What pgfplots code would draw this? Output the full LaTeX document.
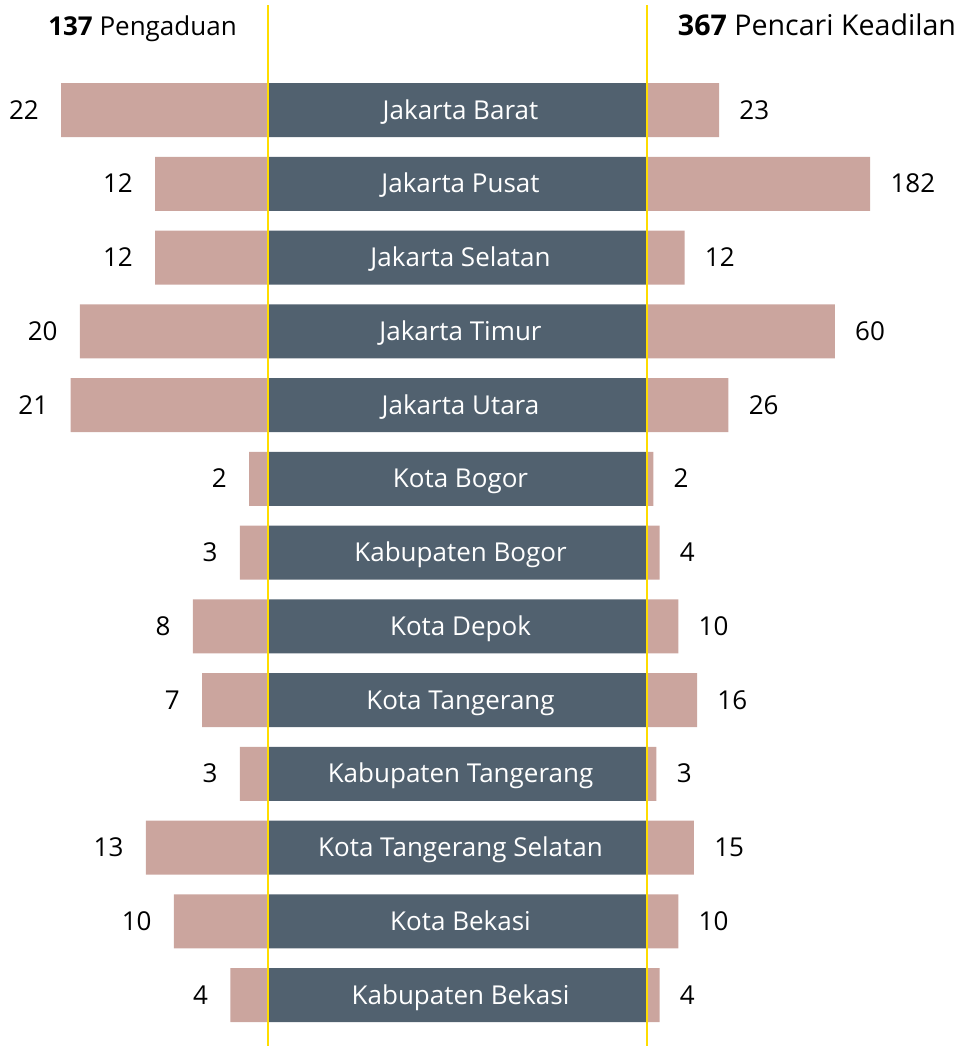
\documentclass[border=0pt]{standalone}
\usepackage{pgfplots}
\usepackage{pgfplotstable}
\usepackage{fontspec}
\setmainfont{Open Sans}
\pgfplotsset{compat=1.18}
\definecolor{pinkbar}{HTML}{CBA59E}
\definecolor{darkbar}{HTML}{51616F}
\definecolor{yel}{HTML}{FFDD00}

\pgfplotstableread[col sep=comma]{
idx,name,left,right,rightlab
0,Jakarta Barat,22,23,23
1,Jakarta Pusat,12,71.3,182
2,Jakarta Selatan,12,12,12
3,Jakarta Timur,20,60,60
4,Jakarta Utara,21,26,26
5,Kota Bogor,2,2,2
6,Kabupaten Bogor,3,4,4
7,Kota Depok,8,10,10
8,Kota Tangerang,7,16,16
9,Kabupaten Tangerang,3,3,3
10,Kota Tangerang Selatan,13,15,15
11,Kota Bekasi,10,10,10
12,Kabupaten Bekasi,4,4,4
}\data

\pgfplotsset{base/.style={scale only axis, height=523pt, ymin=-1.4915, ymax=12.6915,
  y dir=reverse, hide axis, clip=false, anchor=north west}}

\begin{document}
\begin{tikzpicture}[font=\fontsize{13}{15.6}\selectfont]
\useasboundingbox (0pt,0pt) rectangle (483pt,-523pt);
% left
\begin{axis}[base, at={(0pt,0pt)}, width=134pt, xmin=0, xmax=28.51, x dir=reverse]
\addplot[xbar, bar width=27pt, fill=pinkbar, draw=none, nodes near coords,
  point meta=explicit symbolic,
  nodes near coords style={anchor=base east, inner sep=0pt, xshift=-11pt, yshift=-4.6pt, text=black}]
  table[x=left, y=idx, meta=left] {\data};
\end{axis}
% right
\begin{axis}[base, at={(323.5pt,0pt)}, width=159.5pt, xmin=0, xmax=101.9]
\addplot[xbar, bar width=27pt, fill=pinkbar, draw=none, nodes near coords,
  point meta=explicit symbolic,
  nodes near coords style={anchor=base west, inner sep=0pt, xshift=10pt, yshift=-4.6pt, text=black}]
  table[x=right, y=idx, meta=rightlab] {\data};
\end{axis}
% center
\begin{axis}[base, at={(134pt,0pt)}, width=189.5pt, xmin=0, xmax=1]
\addplot[xbar, bar width=27pt, fill=darkbar, draw=none] table[x expr=1, y=idx] {\data};
\addplot[draw=none, mark=none, nodes near coords, point meta=explicit symbolic,
  nodes near coords style={anchor=base, inner sep=0pt, yshift=-4.6pt, xshift=1.5pt, text=white}]
  table[x expr=0.5, y=idx, meta=name] {\data};
\draw[yel, line width=1.3pt] (axis cs:0,-1.424) -- (axis cs:0,12.6915);
\draw[yel, line width=1.3pt] (axis cs:1,-1.424) -- (axis cs:1,12.6915);
\end{axis}
\node[anchor=base, inner sep=0pt] at (71.25pt,-17.5pt) {\textbf{137} Pengaduan};
\node[anchor=base, inner sep=0pt, font=\fontsize{14.3}{17}\selectfont] at (408.5pt,-17.5pt) {\textbf{367} Pencari Keadilan};
\end{tikzpicture}
\end{document}
